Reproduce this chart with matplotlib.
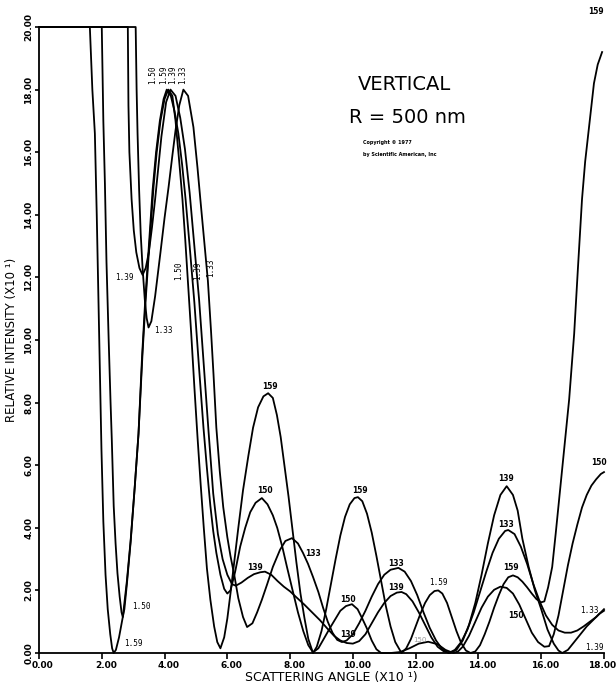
import matplotlib
matplotlib.use("Agg")
import matplotlib.pyplot as plt
import matplotlib.transforms as mtransforms

# traced curves, relative index n = 1.59, 1.50, 1.39, 1.33
x159 = [0, 1.62, 1.70, 1.78, 1.84, 1.89, 1.94, 1.99, 2.05, 2.12, 2.19, 2.27, 2.33, 2.38, 2.45, 2.55, 2.67, 2.80,
        2.92, 3.05, 3.17, 3.30, 3.40, 3.50, 3.65, 3.75, 3.87, 4.00, 4.12, 4.25, 4.35, 4.45, 4.57, 4.66, 4.75, 4.85,
        4.95, 5.05, 5.15, 5.25, 5.35, 5.46, 5.58, 5.68, 5.78, 5.90, 6.00, 6.10, 6.22, 6.35, 6.50, 6.67, 6.82, 6.98,
        7.15, 7.30, 7.45, 7.58, 7.70, 7.82, 7.95, 8.08, 8.20, 8.33, 8.46, 8.58, 8.73, 8.85, 9.00, 9.15, 9.30, 9.45,
        9.60, 9.75, 9.90, 10.05, 10.16, 10.30, 10.45, 10.60, 10.75, 10.90, 11.05, 11.20, 11.35, 11.55, 11.70, 11.85,
        12.00, 12.15, 12.30, 12.45, 12.60, 12.72, 12.85, 13.00, 13.15, 13.30, 13.45, 13.60, 13.75, 13.90, 14.05,
        14.20, 14.35, 14.50, 14.65, 14.80, 14.95, 15.10, 15.25, 15.40, 15.55, 15.70, 15.85, 16.00, 16.10, 16.22,
        16.35, 16.46, 16.57, 16.73, 16.89, 17.05, 17.17, 17.30, 17.40, 17.50, 17.60, 17.68, 17.80, 17.94]
y159 = [20, 20, 18.0, 16.6, 14.0, 11.5, 9.0, 6.5, 4.2, 2.5, 1.4, 0.6, 0.15, 0.0, 0.1, 0.5, 1.15, 2.3,
        3.6, 5.3, 7.0, 9.6, 11.3, 12.8, 14.9, 16.0, 17.0, 17.7, 18.0, 17.8, 17.0, 15.9, 14.5, 13.2, 11.8, 10.2,
        8.5, 6.9, 5.4, 4.0, 2.7, 1.7, 0.85, 0.35, 0.15, 0.5, 1.1, 1.9, 2.9, 4.0, 5.2, 6.3, 7.2, 7.85,
        8.2, 8.3, 8.15, 7.6, 6.9, 6.0, 5.0, 3.9, 2.9, 1.9, 1.1, 0.45, 0.0, 0.2, 0.7, 1.4, 2.2, 3.0,
        3.75, 4.35, 4.75, 4.95, 4.98, 4.85, 4.45, 3.85, 3.1, 2.3, 1.5, 0.85, 0.35, 0.0, 0.15, 0.45,
        0.85, 1.25, 1.6, 1.85, 1.98, 2.0, 1.9, 1.6, 1.15, 0.7, 0.32, 0.08, 0.0, 0.05, 0.25,
        0.6, 1.0, 1.45, 1.85, 2.2, 2.42, 2.48, 2.42, 2.28, 2.1, 1.9, 1.72, 1.62, 1.65, 2.1,
        2.75, 3.8, 4.9, 6.5, 8.1, 10.2, 12.3, 14.5, 15.7, 16.6, 17.5, 18.2, 18.8, 19.2]

x150 = [0, 2.00, 2.05, 2.10, 2.15, 2.22, 2.28, 2.32, 2.38, 2.44, 2.50, 2.57, 2.63, 2.67, 2.72, 2.80, 2.92, 3.05,
        3.17, 3.28, 3.38, 3.48, 3.62, 3.73, 3.85, 3.97, 4.07, 4.20, 4.32, 4.44, 4.56, 4.67, 4.80, 4.95, 5.10, 5.24,
        5.35, 5.46, 5.55, 5.65, 5.78, 5.90, 6.00, 6.10, 6.25, 6.41, 6.57, 6.73, 6.90, 7.10, 7.28, 7.45, 7.59, 7.75,
        7.90, 8.08, 8.25, 8.42, 8.58, 8.73, 8.90, 9.10, 9.27, 9.45, 9.60, 9.78, 9.97, 10.15, 10.30, 10.44, 10.60,
        10.75, 10.90, 11.20, 11.50, 11.80, 12.10, 12.40, 12.70, 12.95, 13.20, 13.35, 13.50, 13.70, 13.90, 14.10,
        14.30, 14.50, 14.70, 14.90, 15.10, 15.30, 15.50, 15.70, 15.90, 16.10, 16.25, 16.40, 16.55, 16.70, 16.85,
        17.00, 17.15, 17.30, 17.45, 17.60, 17.75, 17.90, 18.00]
y150 = [20, 20, 17.0, 15.0, 12.5, 10.0, 8.0, 6.8, 4.7, 3.5, 2.55, 1.8, 1.3, 1.15, 1.4, 2.2, 3.55, 5.3,
        7.0, 9.4, 11.2, 12.7, 14.8, 16.0, 17.0, 17.7, 18.0, 17.8, 17.3, 16.6, 15.6, 14.5, 13.0, 11.2, 9.1, 7.2,
        5.9, 4.7, 3.9, 3.2, 2.5, 2.05, 1.9, 2.0, 2.6, 3.4, 4.0, 4.5, 4.8, 4.95, 4.75, 4.4, 4.0, 3.4,
        2.75, 2.0, 1.3, 0.7, 0.25, 0.02, 0.15, 0.5, 0.8, 1.1, 1.35, 1.5, 1.56, 1.4, 1.1, 0.8, 0.4,
        0.12, 0.0, 0.0, 0.03, 0.15, 0.3, 0.36, 0.28, 0.1, 0.0, 0.05, 0.2, 0.55, 1.0, 1.45,
        1.8, 2.02, 2.12, 2.08, 1.9, 1.55, 1.1, 0.65, 0.35, 0.2, 0.22, 0.6, 1.2, 2.0, 2.8,
        3.5, 4.1, 4.65, 5.05, 5.35, 5.55, 5.72, 5.78]

x139 = [0, 2.83, 2.85, 2.88, 2.95, 3.02, 3.10, 3.20, 3.30, 3.40, 3.50, 3.60, 3.70, 3.80, 3.90, 4.05, 4.19, 4.35,
        4.50, 4.65, 4.80, 4.95, 5.10, 5.25, 5.40, 5.55, 5.70, 5.85, 6.00, 6.15, 6.27, 6.45, 6.65, 6.85, 7.05, 7.20,
        7.40, 7.60, 7.80, 8.00, 8.20, 8.45, 8.70, 8.95, 9.17, 9.40, 9.60, 9.80, 10.00, 10.20, 10.40, 10.60, 10.80,
        11.00, 11.20, 11.40, 11.55, 11.70, 11.90, 12.10, 12.30, 12.50, 12.70, 12.90, 13.10, 13.30, 13.50, 13.70,
        13.90, 14.10, 14.30, 14.50, 14.70, 14.90, 15.10, 15.25, 15.40, 15.60, 15.80, 16.00, 16.20, 16.40, 16.55,
        16.67, 16.85, 17.05, 17.25, 17.45, 17.65, 17.85, 18.00]
y139 = [20, 20, 17.5, 16.0, 14.5, 13.5, 12.8, 12.3, 12.08, 12.3, 12.8, 13.6, 14.5, 15.5, 16.5, 17.6, 18.0, 17.8,
        17.1, 16.1, 14.7, 13.0, 11.3, 9.2, 7.1, 5.1, 3.8, 3.0, 2.5, 2.2, 2.15, 2.25, 2.4, 2.52, 2.58, 2.6,
        2.5, 2.3, 2.12, 1.97, 1.78, 1.55, 1.3, 1.05, 0.8, 0.55, 0.4, 0.32, 0.3, 0.38, 0.6, 0.95, 1.3,
        1.6, 1.82, 1.93, 1.95, 1.88, 1.65, 1.3, 0.9, 0.5, 0.2, 0.05, 0.0, 0.1, 0.4, 0.9,
        1.6, 2.5, 3.5, 4.4, 5.05, 5.33, 5.05, 4.55, 3.65, 2.75, 2.0, 1.4, 0.75, 0.3, 0.08,
        0.0, 0.1, 0.35, 0.6, 0.85, 1.05, 1.25, 1.35]

x133 = [0, 3.08, 3.11, 3.14, 3.19, 3.24, 3.30, 3.37, 3.43, 3.49, 3.58, 3.70, 3.87, 4.00, 4.13, 4.25, 4.35, 4.47,
        4.60, 4.75, 4.92, 5.05, 5.14, 5.26, 5.38, 5.48, 5.56, 5.65, 5.76, 5.87, 6.00, 6.10, 6.22, 6.35, 6.50, 6.63,
        6.80, 6.95, 7.10, 7.27, 7.45, 7.68, 7.85, 8.06, 8.25, 8.41, 8.57, 8.73, 8.90, 9.05, 9.20, 9.35, 9.50, 9.65,
        9.80, 10.00, 10.20, 10.40, 10.60, 10.80, 11.00, 11.20, 11.45, 11.65, 11.85, 12.05, 12.25, 12.45, 12.65,
        12.85, 13.05, 13.25, 13.45, 13.65, 13.85, 14.05, 14.25, 14.45, 14.65, 14.85, 14.95, 15.15, 15.35, 15.55,
        15.75, 15.95, 16.15, 16.35, 16.55, 16.75, 16.95, 17.15, 17.35, 17.55, 17.75, 17.90, 18.00]
y133 = [20, 20, 18.0, 16.6, 14.8, 13.4, 12.3, 11.3, 10.7, 10.4, 10.6, 11.4, 12.8, 13.9, 14.9, 15.9, 16.7, 17.5,
        18.0, 17.8, 16.8, 15.5, 14.5, 13.2, 11.9, 10.3, 8.9, 7.2, 5.8, 4.66, 3.7, 3.1, 2.5, 1.75, 1.15, 0.83,
        0.95, 1.3, 1.7, 2.2, 2.75, 3.3, 3.58, 3.67, 3.5, 3.2, 2.85, 2.43, 1.95, 1.45, 1.0, 0.65, 0.42, 0.35,
        0.4, 0.6, 0.95, 1.35, 1.8, 2.2, 2.5, 2.66, 2.72, 2.6, 2.3, 1.85, 1.3, 0.8, 0.4,
        0.12, 0.0, 0.1, 0.35, 0.75, 1.3, 1.95, 2.6, 3.2, 3.65, 3.9, 3.93, 3.8, 3.4, 2.85,
        2.2, 1.65, 1.2, 0.9, 0.72, 0.65, 0.65, 0.72, 0.85, 1.0, 1.15, 1.3, 1.4]

xticks = [0, 2, 4, 6, 8, 10, 12, 14, 16, 18]
yticks = [0, 2, 4, 6, 8, 10, 12, 14, 16, 18, 20]

# curve tags: text, x, y, rotation, mono
tags = [
    ("1.50", 3.62, 18.47, 90, True), ("1.59", 3.97, 18.47, 90, True),
    ("1.39", 4.25, 18.47, 90, True), ("1.33", 4.57, 18.47, 90, True),
    ("1.39", 2.73, 12.0, 0, True), ("1.33", 3.97, 10.29, 0, True),
    ("1.50", 4.44, 12.2, 90, True), ("1.39", 5.05, 12.2, 90, True), ("1.33", 5.46, 12.3, 90, True),
    ("1.50", 3.27, 1.5, 0, True), ("1.59", 3.0, 0.29, 0, True),
    ("159", 7.37, 8.53, 0, False), ("150", 7.2, 5.2, 0, False), ("139", 6.89, 2.72, 0, False),
    ("133", 8.73, 3.19, 0, False), ("159", 10.22, 5.2, 0, False), ("150", 9.84, 1.72, 0, False),
    ("139", 9.84, 0.6, 0, False), ("133", 11.37, 2.87, 0, False), ("139", 11.37, 2.1, 0, False),
    ("1.59", 12.73, 2.24, 0, True), ("139", 14.89, 5.59, 0, False), ("133", 14.89, 4.09, 0, False),
    ("159", 15.05, 2.72, 0, False), ("150", 15.2, 1.21, 0, False), ("1.33", 17.52, 1.37, 0, True),
    ("1.39", 17.68, 0.19, 0, True), ("150", 17.84, 6.1, 0, False), ("159", 17.75, 20.48, 0, False),
]

fig = plt.figure(figsize=(6.16, 6.84), dpi=100)
ax = fig.add_axes([0.0633, 0.0453, 0.9172, 0.9152])

for xs, ys in [(x159, y159), (x150, y150), (x139, y139), (x133, y133)]:
    ax.plot(xs, ys, color='black', lw=1.3, clip_on=False, solid_joinstyle='round')

# faint small-hump tag
ax.text(12.13, 0.42, "150", fontsize=5, color='#999999', ha='center', va='center')

for txt, tx, ty, rot, mono in tags:
    ax.text(tx, ty, txt, rotation=rot, ha='center', va='center', clip_on=False,
            fontsize=5.5, fontweight='normal' if mono else 'bold',
            family='DejaVu Sans Mono' if mono else 'DejaVu Sans')

ax.text(11.65, 18.15, "VERTICAL", fontsize=14, ha='center', va='center')
ax.text(11.75, 17.12, "R = 500 nm", fontsize=14, ha='center', va='center')
ax.text(10.32, 16.3, "Copyright \u00a9 1977", fontsize=3.5, fontweight='bold', ha='left', va='center')
ax.text(10.32, 15.94, "by Scientific American, Inc", fontsize=3.5, fontweight='bold', ha='left', va='center')

ax.set_xlim(0, 18)
ax.set_ylim(0, 20)
ax.spines['top'].set_visible(False)
ax.spines['right'].set_visible(False)
ax.spines['left'].set_linewidth(1.3)
ax.spines['bottom'].set_linewidth(1.3)

ax.set_xticks(xticks)
ax.set_xticklabels(["%.2f" % v for v in xticks], fontsize=6.5, fontweight='bold')
ax.set_yticks(yticks)
ax.set_yticklabels(["%.2f" % v for v in yticks], fontsize=6.5, fontweight='bold',
                   rotation=90, va='center')
ax.tick_params(axis='both', direction='out', length=4, width=1.2, pad=1.5)
ax.tick_params(axis='y', length=3, pad=1)

shift = mtransforms.ScaledTranslation(4 / 100, 0, fig.dpi_scale_trans)
for lab in ax.get_xticklabels()[:-1]:
    lab.set_transform(lab.get_transform() + shift)
ax.get_xticklabels()[-1].set_horizontalalignment('right')
ax.get_xticklabels()[-1].set_transform(ax.get_xticklabels()[-1].get_transform()
                                       + mtransforms.ScaledTranslation(12 / 100, 0, fig.dpi_scale_trans))

ax.text(9.3, -0.78, "SCATTERING ANGLE (X10 \u00b9)", fontsize=9, ha='center', va='center', clip_on=False)
ax.text(-0.88, 10.0, "RELATIVE INTENSITY (X10 \u00b9)", fontsize=8.5, rotation=90,
        ha='center', va='center', clip_on=False)

fig.savefig("out.png", dpi=100)
